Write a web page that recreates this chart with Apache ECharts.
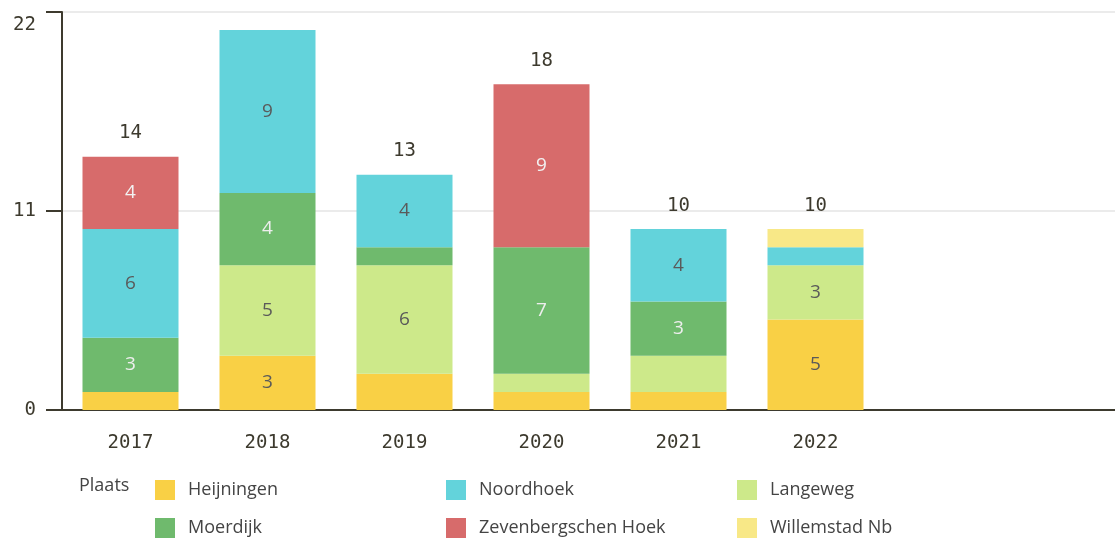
<!DOCTYPE html>
<html>
<head>
<meta charset="utf-8">
<script src="https://cdn.jsdelivr.net/npm/echarts@6/dist/echarts.min.js"></script>
<style>
  html, body { margin: 0; padding: 0; background: #fff; }
  #chart { width: 1115px; height: 540px; }
</style>
</head>
<body>
<div id="chart"></div>
<script>
var years = ['2017', '2018', '2019', '2020', '2021', '2022', '', '']
var heijningen = [1, 3, 2, 1, 1, 5]
var langeweg = [0, 5, 6, 1, 2, 3]
var moerdijk = [3, 4, 1, 7, 3, 0]
var noordhoek = [6, 9, 4, 0, 4, 1]
var zevenbergschenHoek = [4, 0, 0, 9, 0, 0]
var willemstadNb = [0, 0, 0, 0, 0, 1]
var totalLabels = ['14', '', '13', '18', '10', '10']
var yTicks = [0, 11, 22]

var textDark = '#3d3a2e'
var monoFont = '"DejaVu Sans Mono", monospace'
var sansFont = '"Open Sans", sans-serif'

var seriesDefs = [
    { name: 'Heijningen', data: heijningen, color: '#f9d045', labelColor: '#5a5a5a' },
    { name: 'Langeweg', data: langeweg, color: '#cde98a', labelColor: '#5a5a5a' },
    { name: 'Moerdijk', data: moerdijk, color: '#6fba6d', labelColor: '#eeeeee' },
    { name: 'Noordhoek', data: noordhoek, color: '#63d3db', labelColor: '#5a5a5a' },
    { name: 'Zevenbergschen Hoek', data: zevenbergschenHoek, color: '#d76b6b', labelColor: '#f2f2f2' },
    { name: 'Willemstad Nb', data: willemstadNb, color: '#f8e887', labelColor: '#5a5a5a' }
]

var series = seriesDefs.map(function (s) {
    return {
        name: s.name,
        type: 'bar',
        stack: 'total',
        barWidth: 96,
        data: s.data,
        itemStyle: { color: s.color },
        label: {
            show: true,
            position: 'inside',
            color: s.labelColor,
            fontFamily: sansFont,
            fontSize: 19,
            formatter: function (p) { return p.value >= 3 ? p.value : '' }
        }
    }
})

series.push({
    name: 'totaal',
    type: 'bar',
    stack: 'total',
    barWidth: 96,
    data: totalLabels.map(function () { return 0 }),
    itemStyle: { color: 'transparent' },
    label: {
        show: true,
        position: 'top',
        distance: 14,
        color: textDark,
        fontFamily: monoFont,
        fontSize: 19,
        formatter: function (p) { return totalLabels[p.dataIndex] }
    }
})

// legend laid out as a 3 x 2 grid
var legendOrder = ['Heijningen', 'Noordhoek', 'Langeweg', 'Moerdijk', 'Zevenbergschen Hoek', 'Willemstad Nb']
var legends = legendOrder.map(function (name, i) {
    return {
        data: [name],
        icon: 'rect',
        left: 150 + (i % 3) * 291,
        top: 475 + Math.floor(i / 3) * 38,
        itemWidth: 20,
        itemHeight: 20,
        itemGap: 0,
        selectedMode: false,
        textStyle: { fontFamily: sansFont, fontSize: 18, color: '#444', padding: [0, 0, 0, 8] }
    }
})

var option = {
    animation: false,
    grid: { left: 62, width: 1096, top: 12, bottom: 130, containLabel: false, outerBoundsMode: 'none' },
    legend: legends,
    graphic: [{
        type: 'text',
        left: 79,
        top: 477,
        style: { text: 'Plaats', font: '18px ' + sansFont, fill: '#444' }
    }],
    xAxis: {
        type: 'category',
        data: years,
        axisLine: { lineStyle: { color: textDark, width: 2 } },
        axisTick: { show: false },
        axisLabel: { color: textDark, fontFamily: monoFont, fontSize: 19, margin: 24 }
    },
    yAxis: {
        type: 'value',
        min: 0,
        max: 22,
        interval: 11,
        axisLine: { show: true, lineStyle: { color: textDark, width: 2 } },
        axisTick: { show: true, length: 16, lineStyle: { color: textDark, width: 2 } },
        axisLabel: {
            color: textDark, fontFamily: monoFont, fontSize: 19, margin: 26,
            formatter: function (v) {
                if (yTicks.indexOf(v) < 0) return ''
                return v === 22 ? '{top|' + v + '}' : String(v)
            },
            rich: { top: { fontFamily: monoFont, fontSize: 19, color: textDark, padding: [26, 0, 0, 0] } }
        },
        splitLine: { lineStyle: { color: '#ebebeb', width: 2 } }
    },
    series: series
}

var chart = echarts.init(document.getElementById('chart'))
chart.setOption(option)
</script>
</body>
</html>
